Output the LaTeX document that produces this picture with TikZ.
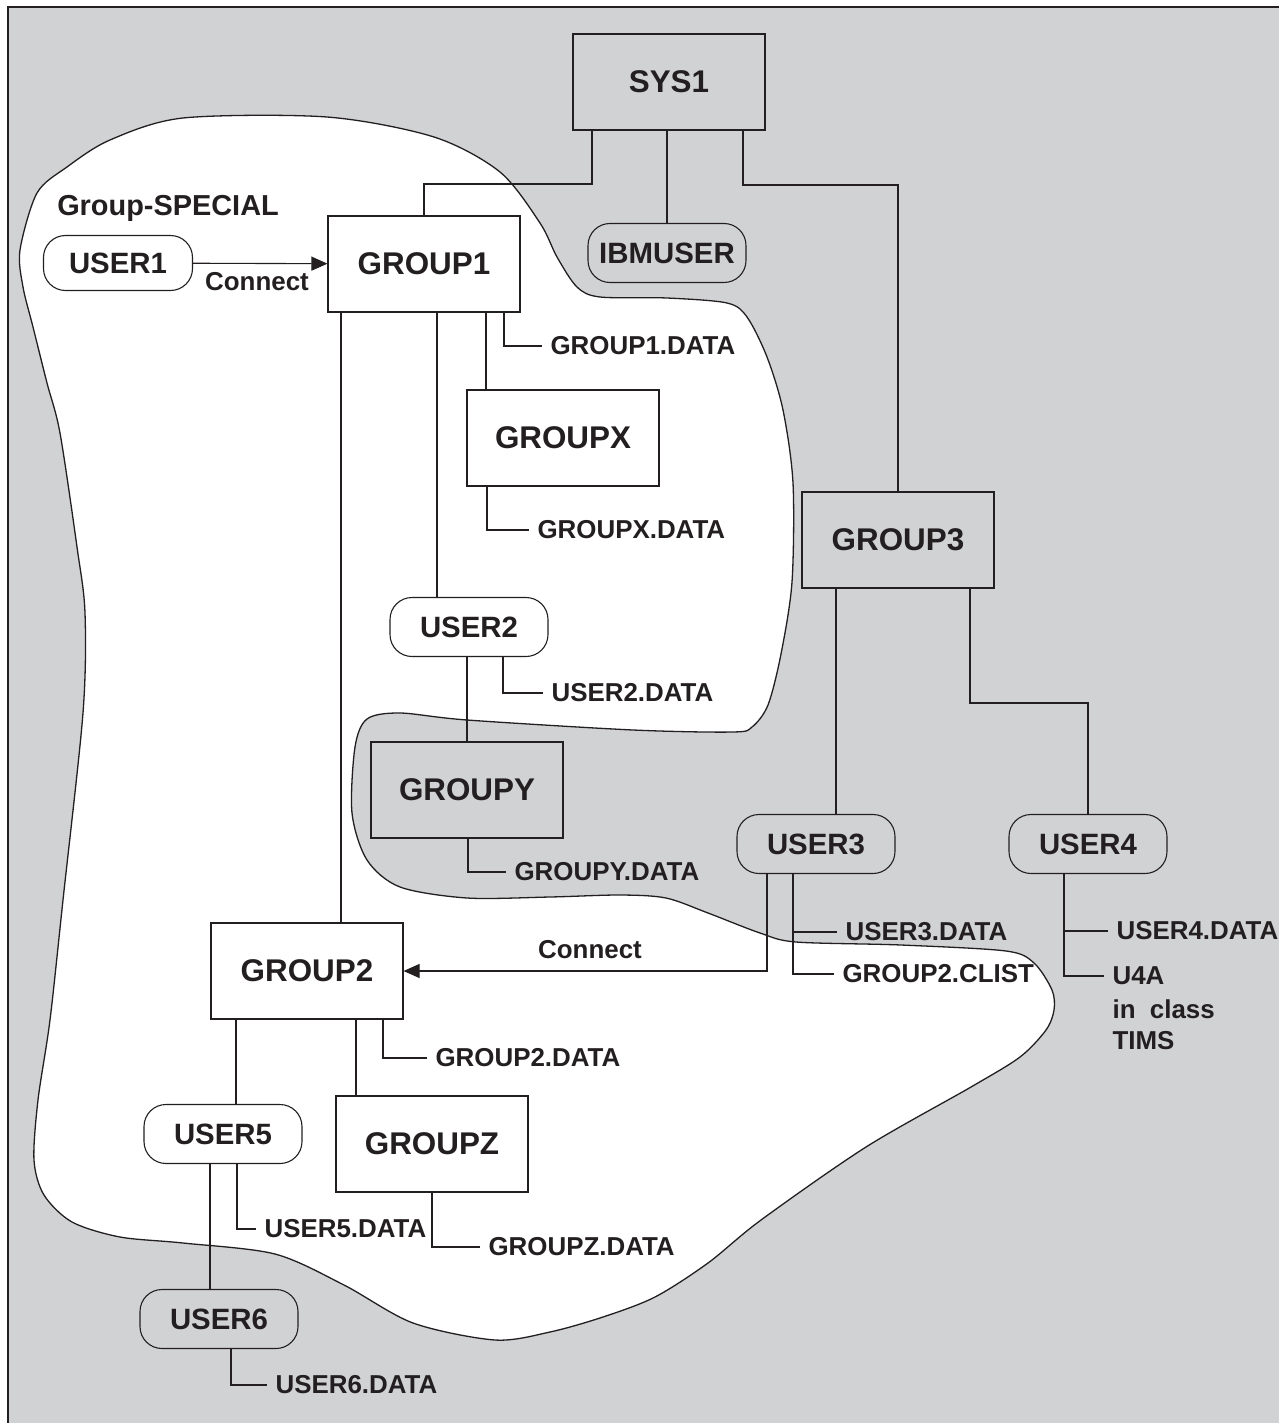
\documentclass[tikz,border=0pt]{standalone}
\usepackage{fontspec}
\setmainfont{Liberation Sans}
\usetikzlibrary{arrows.meta}
\definecolor{panel}{RGB}{209,210,212}
\definecolor{ink}{RGB}{35,31,32}

\begin{document}
\begin{tikzpicture}[x=1bp, y=-1bp]
			\useasboundingbox (0,0) rectangle (1278,1423);
			\fill[white] (0,0) rectangle (1278,1423);
			\draw[ink, line width=1.6bp, fill=panel] (8,7) rectangle (1300,1450);
			\draw[ink, line width=1.3bp, fill=white] plot[smooth cycle, tension=0.5] coordinates {
				(20,250) (37,193) (67,167) (110,140) (183,118) (327,117) (434,137) (500,172)
				(540,223) (557,257) (577,287) (600,297) (667,298) (727,303) (747,317) (767,357)
				(783,410) (793,483) (792,582) (781,654) (768,705) (752,727) (733,732) (633,730)
				(467,720) (400,713) (367,719) (355,747) (352,813) (367,860) (400,887) (467,898)
				(550,897) (620,895) (666,898) (708,913) (760,933) (796,942) (901,945) (1006,951)
				(1034,963) (1052,990) (1054,1010) (1046,1030) (1020,1057) (971,1087) (866,1147)
				(761,1220) (708,1263) (655,1297) (603,1317) (550,1332) (495,1340) (413,1323)
				(344,1285) (275,1254) (183,1243) (120,1237) (72,1222) (44,1195) (34,1160) (38,1100)
				(50,1020) (63,900) (83,713) (85,613) (77,547) (60,433) (47,383) (33,327) (23,287)};
			\begin{scope}[ink, line width=1.1bp]
			\tikzstyle{every node}=[align=left, inner sep=1pt, text=ink, font=\bfseries]
			\tikzstyle{grp}=[draw, fill=white, minimum width=192bp, minimum height=96bp, font=\fontsize{31.5}{35}\selectfont\bfseries]
			\tikzstyle{usr}=[draw, fill=white, rounded corners=22bp, minimum width=158bp, minimum height=59bp, font=\fontsize{29.5}{34}\selectfont\bfseries]
			\tikzstyle{dsn}=[anchor=west, inner sep=8bp, font=\fontsize{26}{31}\selectfont\bfseries]
			\tikzstyle{lbl}=[font=\fontsize{26}{30}\selectfont\bfseries]
			\tikzstyle{shade}=[fill=panel]
			\tikzstyle{conn}=[-{Triangle[length=16bp, width=14bp]}]
				\node[grp, shade] (sys1) at (669, 82) {SYS1};
				\node[usr, shade] (ibmuser) at (667, 253) {IBMUSER};
				\node[grp] (group1) at (424, 264) {GROUP1};
				\node[usr, minimum width=149bp, minimum height=55bp] (user1) at (118, 263) {USER1};
				\node[lbl, font=\fontsize{29}{33}\selectfont\bfseries] (special) at (168, 208) {Group-SPECIAL};
				\node[lbl] (connect1) at (257, 282) {Connect};
				\node[grp] (groupx) at (563, 438) {GROUPX};
				\node[usr] (user2) at (469, 627) {USER2};
				\node[grp, shade] (groupy) at (467, 790) {GROUPY};
				\node[grp, shade] (group3) at (898, 540) {GROUP3};
				\node[usr, shade] (user3) at (816, 844) {USER3};
				\node[usr, shade] (user4) at (1088, 844) {USER4};
				\node[grp] (group2) at (307, 971) {GROUP2};
				\node[lbl] (connect2) at (590, 950) {Connect};
				\node[grp] (groupz) at (432, 1144) {GROUPZ};
				\node[usr] (user5) at (223, 1134) {USER5};
				\node[usr, shade] (user6) at (219, 1319) {USER6};

				\node[dsn] (g1data) at (542, 346) {GROUP1.DATA};
				\node[dsn] (gxdata) at (529, 530) {GROUPX.DATA};
				\node[dsn] (u2data) at (543, 693) {USER2.DATA};
				\node[dsn] (gydata) at (506, 872) {GROUPY.DATA};
				\node[dsn] (u3data) at (837, 932) {USER3.DATA};
				\node[dsn] (g2clist) at (834, 974) {GROUP2.CLIST};
				\node[dsn] (u4data) at (1108, 931) {USER4.DATA};
				\node[dsn] (u4a) at (1104, 976) {U4A};
				\node[dsn] (u4class) at (1104, 1025) {in\ \ class\\TIMS};
				\node[dsn] (g2data) at (427, 1058) {GROUP2.DATA};
				\node[dsn] (u5data) at (256, 1229) {USER5.DATA};
				\node[dsn] (gzdata) at (480, 1247) {GROUPZ.DATA};
				\node[dsn] (u6data) at (267, 1385) {USER6.DATA};

				\draw[conn]  (user1) -- (group1);
				\draw  (592,0 |- sys1.south) -- (592,184) -| (group1.north);
				\draw  (ibmuser.north |- sys1.south) -- (ibmuser.north);
				\draw  (743,0 |- sys1.south) -- (743,185) -| (group3.north);
				\draw  (341,0 |- group1.south) -- (341,0 |- group2.north);
				\draw  (437,0 |- group1.south) -- (437,0 |- user2.north);
				\draw  (486,0 |- group1.south) -- (486,0 |- groupx.north);
				\draw  (504,0 |- group1.south) |- (g1data.west);
				\draw  (487,0 |- groupx.south) |- (gxdata.west);
				\draw  (user2.south -| groupy.north) -- (groupy.north);
				\draw  (503,0 |- user2.south) |- (u2data.west);
				\draw  (468,0 |- groupy.south) |- (gydata.west);
				\draw  (836,0 |- group3.south) -- (836,0 |- user3.north);
				\draw  (970,0 |- group3.south) -- (970,703) -| (user4.north);
				\draw[conn]  (767,0 |- user3.south) |- (group2.east);
				\draw  (793,0 |- user3.south) |- (u3data.west);
				\draw  (793,0 |- user3.south) |- (g2clist.west);
				\draw  (1064,0 |- user4.south) |- (u4data.west);
				\draw  (1064,0 |- user4.south) |- (u4a.west);
				\draw  (236,0 |- group2.south) -- (236,0 |- user5.north);
				\draw  (356,0 |- group2.south) -- (356,0 |- groupz.north);
				\draw  (383,0 |- group2.south) |- (g2data.west);
				\draw  (210,0 |- user5.south) -- (210,0 |- user6.north);
				\draw  (237,0 |- user5.south) |- (u5data.west);
				\draw  (432,0 |- groupz.south) |- (gzdata.west);
				\draw  (231,0 |- user6.south) |- (u6data.west);
			\end{scope}
\end{tikzpicture}
\end{document}
